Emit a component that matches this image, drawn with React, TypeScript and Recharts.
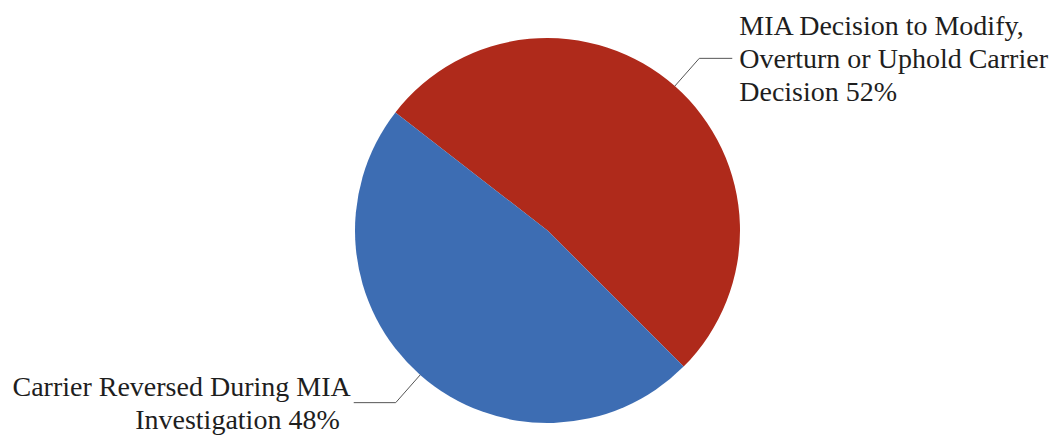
import React from "react";
import { PieChart, Pie, Cell } from "recharts";

const categories = [
  "MIA Decision to Modify, Overturn or Uphold Carrier Decision",
  "Carrier Reversed During MIA Investigation",
];
const values = [52, 48];
const labelLines = [
  ["MIA Decision to Modify,", "Overturn or Uphold Carrier", "Decision"],
  ["Carrier Reversed During MIA", "Investigation"],
];
const colors = ["#AF2A1B", "#3D6DB3"];

const data = categories.map((name, i) => ({ name, value: values[i] }));

const RAD = Math.PI / 180;
const FONT = "Liberation Serif";
const FS = 28;
const LH = 33;

const renderLabel = (props: any) => {
  const { cx, cy, midAngle, outerRadius, index, value } = props;
  const cos = Math.cos(-midAngle * RAD);
  const sin = Math.sin(-midAngle * RAD);
  const sx = cx + outerRadius * cos;
  const sy = cy + outerRadius * sin;
  const ex = cx + (outerRadius + 37) * cos;
  const ey = cy + (outerRadius + 37) * sin;
  const right = cos >= 0;
  const hx = ex + (right ? 33 : -42);
  const lines = labelLines[index].slice();
  lines[lines.length - 1] = `${lines[lines.length - 1]} ${value}%`;
  const n = lines.length;
  const tx = right ? hx + 7 : hx - 3;
  return (
    <g key={`lbl-${index}`}>
      <polyline
        points={`${sx},${sy} ${ex},${ey} ${hx},${ey}`}
        fill="none"
        stroke="#555"
        strokeWidth={1}
      />
      {lines.map((ln, i) => {
        const cyLine = ey + (i - (n - 1) / 2) * LH;
        const extra = !right && i === n - 1 ? -11 : 0;
        return (
          <text
            key={i}
            x={tx + extra}
            y={cyLine + 9.5}
            textAnchor={right ? "start" : "end"}
            fontFamily={FONT}
            fontSize={FS}
            fill="#1e1e1e"
            stroke="none"
          >
            {ln}
          </text>
        );
      })}
    </g>
  );
};

export default function App() {
  return (
    <div style={{ position: "absolute", left: 0, top: 0, background: "#fff" }}>
      <PieChart width={1064} height={436} margin={{ top: 0, right: 0, bottom: 0, left: 0 }}>
        <Pie
          data={data}
          dataKey="value"
          nameKey="name"
          cx={547.5}
          cy={230.5}
          outerRadius={192.5}
          startAngle={-45}
          endAngle={315}
          stroke="none"
          label={renderLabel}
          labelLine={false}
          isAnimationActive={false}
        >
          {data.map((d, i) => (
            <Cell key={d.name} fill={colors[i]} />
          ))}
        </Pie>
      </PieChart>
    </div>
  );
}
